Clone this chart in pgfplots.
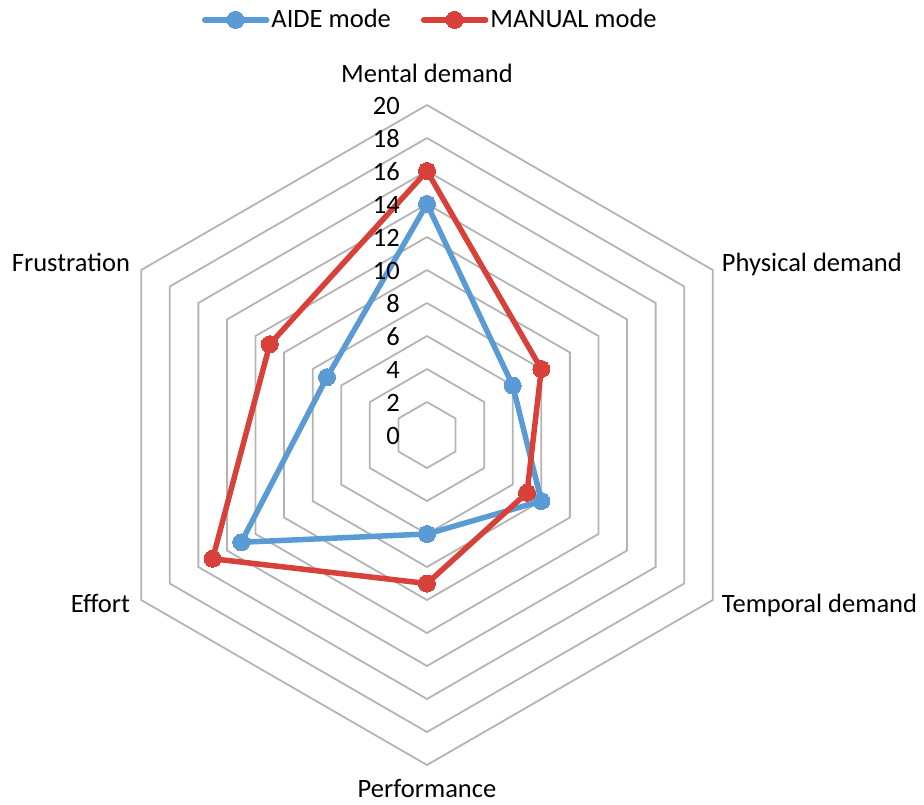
\documentclass[border=0pt]{standalone}
\usepackage{fontspec}
\setmainfont{Carlito}
\usepackage{pgfplots}
\pgfplotsset{compat=1.18}
\usepgfplotslibrary{polar}

\definecolor{aide}{HTML}{5B9BD5}
\definecolor{manual}{HTML}{D8403A}
\definecolor{gridgray}{HTML}{B4B4B4}

\begin{document}
\begin{tikzpicture}
\fontsize{26.5}{32}\selectfont
\path[use as bounding box] (-427pt,-369pt) rectangle (497pt,435pt);
\begin{polaraxis}[
    at={(0pt,0pt)}, anchor=center,
    width=660pt, height=660pt, scale only axis,
    ymin=0, ymax=20,
    hide axis, clip=false,
    legend columns=2,
    legend style={draw=none, fill=none, at={(0.505,1.129)}, anchor=center,
        font=\fontsize{26.5}{32}\selectfont,
        /tikz/every even column/.append style={column sep=28pt}},
    legend cell align=left,
    legend image code/.code={
        \draw[mark repeat=2,mark phase=2,line cap=round,#1]
            plot coordinates {(0pt,0pt) (31pt,0pt) (62pt,0pt)};},
  ]
  % hexagonal grid
  \pgfplotsinvokeforeach{2,4,...,20}{
    \addplot[gridgray, line width=1.8pt, forget plot] coordinates
      {(90,#1) (30,#1) (-30,#1) (-90,#1) (-150,#1) (150,#1) (90,#1)};
  }
  % series: Mental, Physical, Temporal, Performance, Effort, Frustration
  \addplot[aide, line width=5.5pt, line join=round, mark=*, mark size=8.5pt,
           mark options={solid, fill=aide, draw=aide, line width=0pt}]
    coordinates {(90,14) (30,6) (-30,8) (-90,6) (-150,13) (150,7) (90,14)};
  \addlegendentry{AIDE mode}
  \addplot[manual, line width=5.5pt, line join=round, mark=*, mark size=8.5pt,
           mark options={solid, fill=manual, draw=manual, line width=0pt}]
    coordinates {(90,16) (30,8) (-30,7) (-90,9) (-150,15) (150,11) (90,16)};
  \addlegendentry{MANUAL mode}
  % value labels
  \pgfplotsinvokeforeach{0,2,...,20}{
    \node[anchor=east, inner sep=0pt, xshift=-27pt, yshift=-1pt] at (axis cs:90,#1) {#1};
  }
  % category labels
  \node[anchor=base, inner sep=0pt, yshift=23pt] at (axis cs:90,20) {Mental demand};
  \node[anchor=base west, inner sep=0pt, xshift=9pt, yshift=-1.5pt] at (axis cs:30,20) {Physical demand};
  \node[anchor=base west, inner sep=0pt, xshift=9pt, yshift=-12pt] at (axis cs:-30,20) {Temporal demand};
  \node[anchor=base, inner sep=0pt, yshift=-32pt] at (axis cs:-90,20) {Performance};
  \node[anchor=base east, inner sep=0pt, xshift=-11pt, yshift=-12pt] at (axis cs:-150,20) {Effort};
  \node[anchor=base east, inner sep=0pt, xshift=-11pt, yshift=-1.5pt] at (axis cs:150,20) {Frustration};
\end{polaraxis}
\end{tikzpicture}
\end{document}
